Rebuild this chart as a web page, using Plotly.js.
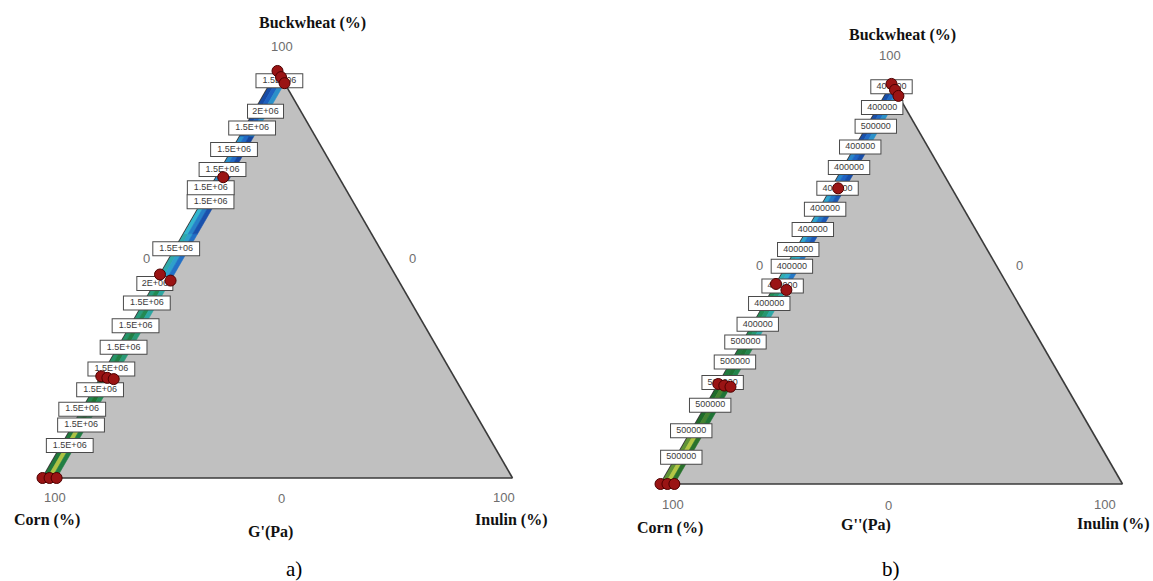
<!DOCTYPE html>
<html>
<head>
<meta charset="utf-8">
<script src="https://cdn.plot.ly/plotly-3.0.1.min.js"></script>
<style>
html,body{margin:0;padding:0;background:#ffffff;}
#chart{width:1153px;height:581px;}
</style>
</head>
<body>
<div id="chart"></div>
<script>
// ---------------- DATA ----------------
// Constrained mixture region drawn as a coloured strip (edges in %)
const stripBuckwheatEdges = [0, 12, 24, 36, 48, 60, 72, 84, 100];
const stripInulinEdges = [0, 1, 2, 3];

// G' (Pa) in each strip cell, one array per inulin sub-band, ordered by buckwheat segment
const gPrimeInner  = [2.05e6, 1.95e6, 1.85e6, 1.80e6, 1.70e6, 1.62e6, 1.50e6, 1.25e6];
const gPrimeMiddle = [2.35e6, 2.10e6, 2.00e6, 1.92e6, 1.55e6, 1.45e6, 1.38e6, 1.35e6];
const gPrimeOuter  = [2.00e6, 1.90e6, 1.82e6, 1.72e6, 1.40e6, 1.28e6, 1.22e6, 1.50e6];

// G'' (Pa) in each strip cell
const gDoublePrimeInner  = [5.30e5, 5.18e5, 5.05e5, 4.90e5, 4.62e5, 4.48e5, 4.35e5, 4.10e5];
const gDoublePrimeMiddle = [5.45e5, 5.25e5, 5.10e5, 4.80e5, 4.50e5, 4.30e5, 4.22e5, 4.25e5];
const gDoublePrimeOuter  = [5.20e5, 5.10e5, 4.95e5, 4.65e5, 4.30e5, 4.15e5, 4.10e5, 4.40e5];

// Contour labels, panel a (G')
const gPrimeLabelText = ['1.5E+06','2E+06','1.5E+06','1.5E+06','1.5E+06','1.5E+06','1.5E+06','1.5E+06','2E+06',
                         '1.5E+06','1.5E+06','1.5E+06','1.5E+06','1.5E+06','1.5E+06','1.5E+06','1.5E+06'];
const gPrimeLabelBuckwheat = [97.6, 90.1, 86.0, 80.7, 75.8, 71.3, 67.9, 56.3, 47.8, 43.0, 37.4, 32.1, 26.8, 21.7, 16.9, 13.0, 8.0];
const gPrimeLabelInulin    = [1.6, 2.4, 1.6, 0.4, 0.4, 0.15, 1.8, 0.3, 0, 0.7, 1.1, 1.2, 1.25, 1.4, 0, 1.7, 1.8];

// Contour labels, panel b (G'')
const gDoublePrimeLabelText = ['400000','400000','500000','400000','400000','400000','400000','400000','400000','400000',
                               '400000','400000','400000','500000','500000','500000','500000','500000','500000'];
const gDoublePrimeLabelBuckwheat = [99.3, 94.1, 89.4, 84.2, 79.1, 73.9, 68.7, 63.6, 58.6, 54.4, 49.5, 45.1, 39.9, 35.5, 30.5, 25.4, 19.7, 13.3, 6.7];
const gDoublePrimeLabelInulin    = [0.35, 0.93, 1.9, 1.13, 1.26, 1.37, 1.28, 1.17, 0.51, 1.24, 1.68, 0.99, 1.1, 0.64, 0.86, 0.75, 0.9, 0, 1.15];

// Design points (%), same mixtures in both panels
const designBuckwheat = [100, 98.5, 97, 73.9, 50, 48.5, 25, 24.6, 24.3, 0, 0, 0];
const designCorn      = [0, 0, 0, 24.6, 50, 48.5, 75, 73.9, 72.7, 100, 98.5, 97];
const designInulin    = [0, 1.5, 3, 1.5, 0, 3, 0, 1.5, 3, 0, 1.5, 3];

// ---------------- STYLE / HELPERS ----------------
const FIG_W = 1153, FIG_H = 581;
const SQ3 = Math.sqrt(3);
const colorStops = [
  [0.00, '#0c2a7a'],
  [0.20, '#1f63c4'],
  [0.40, '#34b6cf'],
  [0.60, '#23905a'],
  [0.80, '#1e6b2a'],
  [1.00, '#cfd84a']
];
function hexToRgb(h){ const n=parseInt(h.slice(1),16); return [(n>>16)&255,(n>>8)&255,n&255]; }
function colorAt(t){
  t = Math.max(0, Math.min(1, t));
  for (let i = 1; i < colorStops.length; i++) {
    if (t <= colorStops[i][0]) {
      const [t0,c0] = colorStops[i-1], [t1,c1] = colorStops[i];
      const f = (t - t0) / (t1 - t0);
      const A = hexToRgb(c0), B = hexToRgb(c1);
      return 'rgb(' + A.map((v,k)=>Math.round(v + (B[k]-v)*f)).join(',') + ')';
    }
  }
  return colorStops[colorStops.length-1][1];
}

function panelDomain(leftPx, widthPx, bottomPx){
  const h = widthPx * SQ3 / 2;
  return {x:[leftPx/FIG_W, (leftPx+widthPx)/FIG_W], y:[(FIG_H-bottomPx)/FIG_H, (FIG_H-bottomPx+h)/FIG_H]};
}

function stripTraces(sub, bands, vmin, vmax){
  const out = [];
  for (let j = 0; j < stripInulinEdges.length - 1; j++) {
    const c0 = stripInulinEdges[j], c1 = stripInulinEdges[j+1];
    for (let i = 0; i < stripBuckwheatEdges.length - 1; i++) {
      const a0 = stripBuckwheatEdges[i], a1 = stripBuckwheatEdges[i+1];
      const aa = [a0, a0, Math.min(a1, 100 - c1), Math.min(a1, 100 - c0), a0];
      const cc = [c0, c1, c1, c0, c0];
      const bb = aa.map((a,k) => 100 - a - cc[k]);
      const col = colorAt((bands[j][i] - vmin) / (vmax - vmin));
      out.push({type:'scatterternary', subplot:sub, a:aa, b:bb, c:cc, mode:'lines', fill:'toself',
        fillcolor:col, line:{color:col, width:0.6}, hoverinfo:'skip', showlegend:false});
    }
  }
  return out;
}

function labelTraces(sub, texts, aArr, cArr){
  const bArr = aArr.map((a,i) => 100 - a - cArr[i]);
  const widths = texts.map(t => t.length * 5.4 + 8);
  const base = {type:'scatterternary', subplot:sub, a:aArr, b:bArr, c:cArr, cliponaxis:false, hoverinfo:'skip', showlegend:false};
  return [
    Object.assign({}, base, {mode:'markers', marker:{symbol:'line-ew', opacity:1, size:widths.map(w => (w + 2) / 1.4), color:'#4a4a4a', line:{color:'#4a4a4a', width:15}}}),
    Object.assign({}, base, {mode:'markers', marker:{symbol:'line-ew', opacity:1, size:widths.map(w => w / 1.4), color:'#ffffff', line:{color:'#ffffff', width:13}}}),
    Object.assign({}, base, {mode:'text', text:texts, textposition:'middle center',
      textfont:{family:'Liberation Sans, Arial, sans-serif', size:9, color:'#3a3a3a'}})
  ];
}

function pointTrace(sub){
  return {type:'scatterternary', subplot:sub, a:designBuckwheat, b:designCorn, c:designInulin, mode:'markers',
    cliponaxis:false, hoverinfo:'skip', showlegend:false,
    marker:{size:11, opacity:1, color:'#9a1414', line:{color:'#4e0000', width:1}}};
}

const axisStyle = () => ({showticklabels:false, ticks:'', showgrid:false, linecolor:'#3a3a3a', linewidth:1.6,
  title:{text:''}, min:0, layer:'below traces'});

function ternaryLayout(domain){
  return {domain:domain, sum:100, bgcolor:'#c0c0c0', aaxis:axisStyle(), baxis:axisStyle(), caxis:axisStyle()};
}

// ---------------- TRACES ----------------
const traces = [].concat(
  stripTraces('ternary', [gPrimeInner, gPrimeMiddle, gPrimeOuter], 1.1e6, 2.4e6),
  labelTraces('ternary', gPrimeLabelText, gPrimeLabelBuckwheat, gPrimeLabelInulin),
  [pointTrace('ternary')],
  stripTraces('ternary2', [gDoublePrimeInner, gDoublePrimeMiddle, gDoublePrimeOuter], 3.9e5, 5.5e5),
  labelTraces('ternary2', gDoublePrimeLabelText, gDoublePrimeLabelBuckwheat, gDoublePrimeLabelInulin),
  [pointTrace('ternary2')]
);

// ---------------- TEXT ----------------
const px = x => x / FIG_W, py = y => 1 - y / FIG_H;
const serifBold = {family:'Liberation Serif, Times New Roman, serif', size:16, color:'#111'};
const tickFont  = {family:'Liberation Sans, Arial, sans-serif', size:13, color:'#6e6e6e'};
const letterFont = {family:'Liberation Serif, Times New Roman, serif', size:21, color:'#000'};
function ann(text, x, y, font){
  return {text:text, x:px(x), y:py(y), xref:'paper', yref:'paper', xanchor:'center', yanchor:'middle', showarrow:false, font:font};
}
const annotations = [
  // panel a
  ann('<b>Buckwheat (%)</b>', 312, 23, serifBold),
  ann('100', 282, 47, tickFont), ann('0', 146, 258, tickFont), ann('0', 412, 258, tickFont),
  ann('100', 55, 497, tickFont), ann('0', 281, 498, tickFont), ann('100', 504, 497, tickFont),
  ann('<b>Corn (%)</b>', 47, 520, serifBold), ann("<b>G'(Pa)</b>", 270, 532, serifBold), ann('<b>Inulin (%)</b>', 511, 520, serifBold),
  ann('a)', 294, 569, letterFont),
  // panel b
  ann('<b>Buckwheat (%)</b>', 902, 35, serifBold),
  ann('100', 890, 55, tickFont), ann('0', 759, 265, tickFont), ann('0', 1019, 265, tickFont),
  ann('100', 673, 504, tickFont), ann('0', 888, 505, tickFont), ann('100', 1105, 504, tickFont),
  ann('<b>Corn (%)</b>', 670, 528, serifBold), ann("<b>G''(Pa)</b>", 866, 525, serifBold), ann('<b>Inulin (%)</b>', 1113, 524, serifBold),
  ann('b)', 891, 569, letterFont)
];

const layout = {
  width: FIG_W, height: FIG_H, autosize:false,
  margin:{l:0, r:0, t:0, b:0, pad:0},
  paper_bgcolor:'#ffffff', showlegend:false,
  ternary: ternaryLayout(panelDomain(42.5, 470, 478)),
  ternary2: ternaryLayout(panelDomain(660.5, 462, 484)),
  annotations: annotations
};

Plotly.newPlot('chart', traces, layout, {displayModeBar:false, staticPlot:true});
</script>
</body>
</html>
